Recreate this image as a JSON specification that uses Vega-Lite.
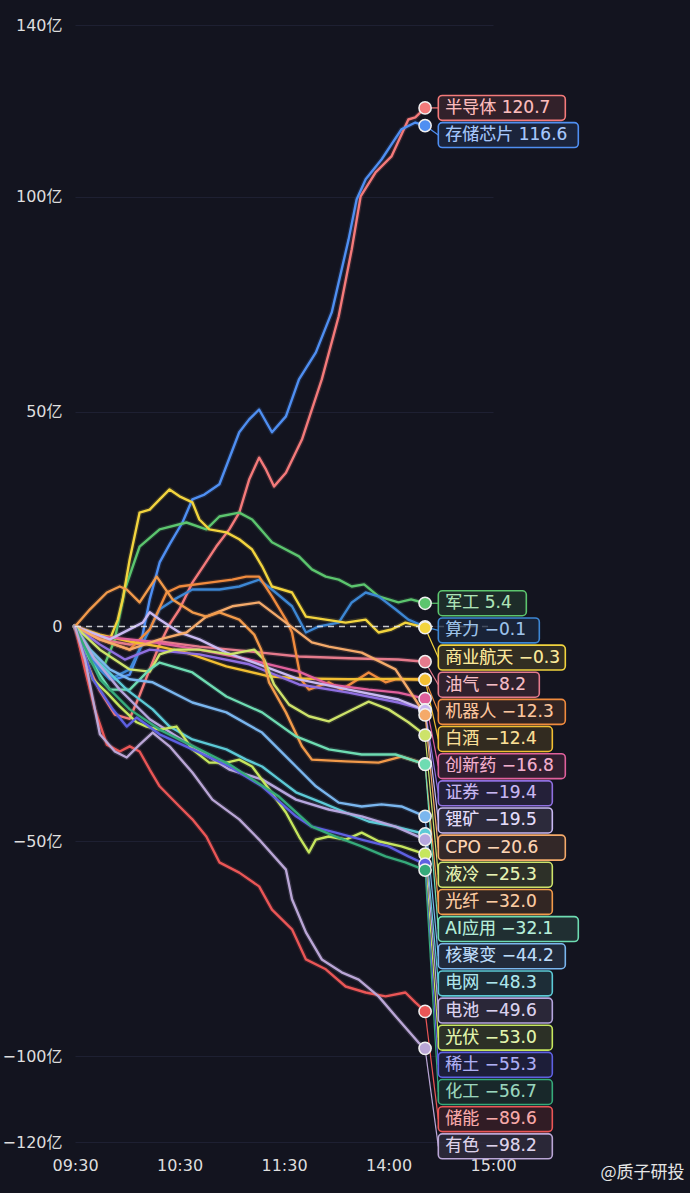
{
  "$schema": "https://vega.github.io/schema/vega-lite/v6.json",
  "width": 418,
  "height": 1117,
  "autosize": {"type": "none"},
  "padding": {"left": 75, "top": 25, "right": 197, "bottom": 51},
  "background": "#13141f",
  "config": {"view": {"stroke": null}},
  "data": {"values": [
    {"s":"半导体","t":0,"v":0},{"s":"半导体","t":5.7,"v":-7.7},{"s":"半导体","t":14.3,"v":-15},{"s":"半导体","t":22.9,"v":-20.5},{"s":"半导体","t":31.4,"v":-21.5},{"s":"半导体","t":37.1,"v":-16},{"s":"半导体","t":42.9,"v":-10},{"s":"半导体","t":48.6,"v":-4.2},{"s":"半导体","t":54.3,"v":0.5},{"s":"半导体","t":60,"v":4},{"s":"半导体","t":67.4,"v":10.2},{"s":"半导体","t":74.3,"v":14.4},{"s":"半导体","t":81.1,"v":18.6},{"s":"半导体","t":88.6,"v":22.6},{"s":"半导体","t":94.3,"v":26.5},{"s":"半导体","t":100,"v":34.2},{"s":"半导体","t":105.7,"v":39.3},{"s":"半导体","t":109.7,"v":36.5},{"s":"半导体","t":114.3,"v":32.6},{"s":"半导体","t":121.1,"v":35.8},{"s":"半导体","t":130.3,"v":43.5},{"s":"半导体","t":141.7,"v":57.5},{"s":"半导体","t":151.4,"v":72.2},{"s":"半导体","t":158.9,"v":87.8},{"s":"半导体","t":164,"v":100.1},{"s":"半导体","t":172.6,"v":105.7},{"s":"半导体","t":181.7,"v":109.4},{"s":"半导体","t":191.4,"v":118},{"s":"半导体","t":195.4,"v":118.5},{"s":"半导体","t":201,"v":120.7},
    {"s":"存储芯片","t":0,"v":0},{"s":"存储芯片","t":5.7,"v":-5.4},{"s":"存储芯片","t":14.3,"v":-9.5},{"s":"存储芯片","t":22.9,"v":-12.3},{"s":"存储芯片","t":31.4,"v":-11.2},{"s":"存储芯片","t":37.1,"v":-5.4},{"s":"存储芯片","t":42.9,"v":6.3},{"s":"存储芯片","t":48.6,"v":14.9},{"s":"存储芯片","t":54.3,"v":19.1},{"s":"存储芯片","t":61.7,"v":24.2},{"s":"存储芯片","t":67.4,"v":29.6},{"s":"存储芯片","t":74.3,"v":30.7},{"s":"存储芯片","t":82.9,"v":33.1},{"s":"存储芯片","t":94.3,"v":45.2},{"s":"存储芯片","t":100,"v":48.2},{"s":"存储芯片","t":105.7,"v":50.5},{"s":"存储芯片","t":113.1,"v":45.2},{"s":"存储芯片","t":121.1,"v":48.9},{"s":"存储芯片","t":128.6,"v":57.5},{"s":"存储芯片","t":138.3,"v":63.8},{"s":"存储芯片","t":147.4,"v":73.1},{"s":"存储芯片","t":157.1,"v":90.1},{"s":"存储芯片","t":161.7,"v":99.4},{"s":"存储芯片","t":166.9,"v":104.1},{"s":"存储芯片","t":176,"v":108.7},{"s":"存储芯片","t":187.4,"v":115.7},{"s":"存储芯片","t":195.4,"v":117.3},{"s":"存储芯片","t":201,"v":116.6},
    {"s":"军工","t":0,"v":0},{"s":"军工","t":8.6,"v":-5.4},{"s":"军工","t":17.1,"v":-8.8},{"s":"军工","t":22.9,"v":-3},{"s":"军工","t":28.6,"v":8.6},{"s":"军工","t":37.1,"v":18.6},{"s":"军工","t":48.6,"v":22.6},{"s":"军工","t":64,"v":24.2},{"s":"军工","t":75.4,"v":22.6},{"s":"军工","t":82.9,"v":25.6},{"s":"军工","t":94.3,"v":26.5},{"s":"军工","t":101.7,"v":24.9},{"s":"军工","t":113.1,"v":19.6},{"s":"军工","t":128.6,"v":16.3},{"s":"军工","t":136,"v":13.3},{"s":"军工","t":144,"v":11.6},{"s":"军工","t":151.4,"v":10.9},{"s":"军工","t":158.9,"v":9.3},{"s":"军工","t":166,"v":9.8},{"s":"军工","t":174.3,"v":7},{"s":"军工","t":185.7,"v":5.6},{"s":"军工","t":193,"v":6.3},{"s":"军工","t":201,"v":5.4},
    {"s":"算力","t":0,"v":0},{"s":"算力","t":8.6,"v":-7.7},{"s":"算力","t":20,"v":-12.3},{"s":"算力","t":31.4,"v":-10},{"s":"算力","t":40,"v":-3},{"s":"算力","t":48.6,"v":4},{"s":"算力","t":57.1,"v":6.3},{"s":"算力","t":67.4,"v":8.6},{"s":"算力","t":82.9,"v":8.6},{"s":"算力","t":94.3,"v":9.3},{"s":"算力","t":105.7,"v":10.9},{"s":"算力","t":113.1,"v":8.6},{"s":"算力","t":124.6,"v":4.7},{"s":"算力","t":132.6,"v":-1.4},{"s":"算力","t":140,"v":0},{"s":"算力","t":151.4,"v":0.9},{"s":"算力","t":158.9,"v":5.6},{"s":"算力","t":166.9,"v":7.9},{"s":"算力","t":174.3,"v":7},{"s":"算力","t":184,"v":4},{"s":"算力","t":191.4,"v":1.6},{"s":"算力","t":201,"v":-0.1},
    {"s":"商业航天","t":0,"v":0},{"s":"商业航天","t":11.4,"v":-1.9},{"s":"商业航天","t":20,"v":-3},{"s":"商业航天","t":24.6,"v":1.6},{"s":"商业航天","t":27.4,"v":6.3},{"s":"商业航天","t":31.4,"v":15.6},{"s":"商业航天","t":37.1,"v":26.5},{"s":"商业航天","t":42.9,"v":27.2},{"s":"商业航天","t":48.6,"v":29.6},{"s":"商业航天","t":54.3,"v":31.9},{"s":"商业航天","t":60,"v":30.3},{"s":"商业航天","t":67.4,"v":28.9},{"s":"商业航天","t":71.4,"v":24.9},{"s":"商业航天","t":77.1,"v":22.6},{"s":"商业航天","t":86.9,"v":21.9},{"s":"商业航天","t":94.3,"v":20.3},{"s":"商业航天","t":101.7,"v":17.9},{"s":"商业航天","t":107.4,"v":14},{"s":"商业航天","t":113.1,"v":9.3},{"s":"商业航天","t":124.6,"v":7.9},{"s":"商业航天","t":132.6,"v":2.3},{"s":"商业航天","t":144,"v":1.6},{"s":"商业航天","t":155.4,"v":0.9},{"s":"商业航天","t":166.9,"v":1.6},{"s":"商业航天","t":174.3,"v":-1.4},{"s":"商业航天","t":181.7,"v":-0.7},{"s":"商业航天","t":189.7,"v":0.9},{"s":"商业航天","t":201,"v":-0.3},
    {"s":"油气","t":0,"v":0},{"s":"油气","t":14.3,"v":-3},{"s":"油气","t":31.4,"v":-4.2},{"s":"油气","t":48.6,"v":-3.5},{"s":"油气","t":71.4,"v":-4.7},{"s":"油气","t":100,"v":-5.8},{"s":"油气","t":128.6,"v":-7},{"s":"油气","t":157.1,"v":-7.4},{"s":"油气","t":185.7,"v":-7.7},{"s":"油气","t":201,"v":-8.2},
    {"s":"机器人","t":0,"v":0},{"s":"机器人","t":14.3,"v":-3},{"s":"机器人","t":31.4,"v":-5.4},{"s":"机器人","t":42.9,"v":-0.7},{"s":"机器人","t":52.6,"v":7.9},{"s":"机器人","t":60,"v":9.3},{"s":"机器人","t":77.1,"v":10.2},{"s":"机器人","t":90.3,"v":10.9},{"s":"机器人","t":98.3,"v":11.6},{"s":"机器人","t":105.7,"v":11.6},{"s":"机器人","t":113.1,"v":7},{"s":"机器人","t":121.1,"v":1.6},{"s":"机器人","t":124.6,"v":-1.4},{"s":"机器人","t":129.7,"v":-12.3},{"s":"机器人","t":134.3,"v":-14.7},{"s":"机器人","t":145.7,"v":-13},{"s":"机器人","t":153.1,"v":-14.7},{"s":"机器人","t":168.6,"v":-10.7},{"s":"机器人","t":178.3,"v":-13},{"s":"机器人","t":184,"v":-12.3},{"s":"机器人","t":201,"v":-12.3},
    {"s":"白酒","t":0,"v":0},{"s":"白酒","t":14.3,"v":-1.9},{"s":"白酒","t":31.4,"v":-3.5},{"s":"白酒","t":48.6,"v":-4.7},{"s":"白酒","t":64,"v":-6.1},{"s":"白酒","t":86.9,"v":-9.3},{"s":"白酒","t":111.4,"v":-11.6},{"s":"白酒","t":128.6,"v":-12.1},{"s":"白酒","t":157.1,"v":-12.3},{"s":"白酒","t":185.7,"v":-12.2},{"s":"白酒","t":201,"v":-12.4},
    {"s":"创新药","t":0,"v":0},{"s":"创新药","t":14.3,"v":-2.3},{"s":"创新药","t":42.9,"v":-3.5},{"s":"创新药","t":71.4,"v":-5.4},{"s":"创新药","t":100,"v":-7.7},{"s":"创新药","t":128.6,"v":-10.5},{"s":"创新药","t":145.7,"v":-13.5},{"s":"创新药","t":168.6,"v":-14.7},{"s":"创新药","t":185.7,"v":-15.4},{"s":"创新药","t":201,"v":-16.8},
    {"s":"证券","t":0,"v":0},{"s":"证券","t":14.3,"v":-4.2},{"s":"证券","t":28.6,"v":-7.7},{"s":"证券","t":42.9,"v":-5.4},{"s":"证券","t":71.4,"v":-6.5},{"s":"证券","t":100,"v":-8.8},{"s":"证券","t":128.6,"v":-13.5},{"s":"证券","t":157.1,"v":-15.4},{"s":"证券","t":185.7,"v":-17.7},{"s":"证券","t":201,"v":-19.4},
    {"s":"锂矿","t":0,"v":0},{"s":"锂矿","t":20,"v":-3},{"s":"锂矿","t":38.9,"v":0.9},{"s":"锂矿","t":42.9,"v":3.3},{"s":"锂矿","t":48.6,"v":1.6},{"s":"锂矿","t":60,"v":-1.4},{"s":"锂矿","t":71.4,"v":-3},{"s":"锂矿","t":86.9,"v":-6.1},{"s":"锂矿","t":105.7,"v":-8.8},{"s":"锂矿","t":128.6,"v":-12.3},{"s":"锂矿","t":157.1,"v":-14.7},{"s":"锂矿","t":185.7,"v":-17},{"s":"锂矿","t":201,"v":-19.5},
    {"s":"CPO","t":0,"v":0},{"s":"CPO","t":14.3,"v":-3},{"s":"CPO","t":31.4,"v":-5.4},{"s":"CPO","t":48.6,"v":-3},{"s":"CPO","t":64,"v":-1.4},{"s":"CPO","t":75.4,"v":2.3},{"s":"CPO","t":90.3,"v":4.7},{"s":"CPO","t":105.7,"v":5.6},{"s":"CPO","t":121.1,"v":0.9},{"s":"CPO","t":136,"v":-3.7},{"s":"CPO","t":145.7,"v":-4.7},{"s":"CPO","t":164.6,"v":-6.1},{"s":"CPO","t":184,"v":-10},{"s":"CPO","t":195.4,"v":-17},{"s":"CPO","t":201,"v":-20.6},
    {"s":"液冷","t":0,"v":0},{"s":"液冷","t":14.3,"v":-5.4},{"s":"液冷","t":31.4,"v":-10},{"s":"液冷","t":42.9,"v":-10.5},{"s":"液冷","t":48.6,"v":-6.5},{"s":"液冷","t":57.1,"v":-5.4},{"s":"液冷","t":71.4,"v":-5.4},{"s":"液冷","t":88.6,"v":-6.5},{"s":"液冷","t":102.9,"v":-5.4},{"s":"液冷","t":108.6,"v":-7.7},{"s":"液冷","t":114.3,"v":-13.5},{"s":"液冷","t":122.9,"v":-18.2},{"s":"液冷","t":134.3,"v":-20.9},{"s":"液冷","t":145.7,"v":-22.1},{"s":"液冷","t":157.1,"v":-19.8},{"s":"液冷","t":168.6,"v":-17.5},{"s":"液冷","t":180,"v":-19.3},{"s":"液冷","t":191.4,"v":-22.3},{"s":"液冷","t":201,"v":-25.3},
    {"s":"光纤","t":0,"v":0},{"s":"光纤","t":8.6,"v":4},{"s":"光纤","t":18.3,"v":7.9},{"s":"光纤","t":25.7,"v":9.3},{"s":"光纤","t":29.7,"v":8.6},{"s":"光纤","t":37.1,"v":5.6},{"s":"光纤","t":46.9,"v":11.6},{"s":"光纤","t":56,"v":6.3},{"s":"光纤","t":67.4,"v":3.3},{"s":"光纤","t":75.4,"v":2.3},{"s":"光纤","t":82.9,"v":3.3},{"s":"光纤","t":94.3,"v":1.6},{"s":"光纤","t":102.9,"v":-1.9},{"s":"光纤","t":106.9,"v":-5.4},{"s":"光纤","t":111.4,"v":-13},{"s":"光纤","t":121.1,"v":-20},{"s":"光纤","t":130.3,"v":-27.9},{"s":"光纤","t":136,"v":-31},{"s":"光纤","t":155.4,"v":-31.4},{"s":"光纤","t":174.3,"v":-31.7},{"s":"光纤","t":187.4,"v":-30.3},{"s":"光纤","t":201,"v":-32},
    {"s":"AI应用","t":0,"v":0},{"s":"AI应用","t":8.6,"v":-7.7},{"s":"AI应用","t":20,"v":-14.7},{"s":"AI应用","t":31.4,"v":-14.7},{"s":"AI应用","t":42.9,"v":-10},{"s":"AI应用","t":48.6,"v":-8.4},{"s":"AI应用","t":67.4,"v":-10.7},{"s":"AI应用","t":86.9,"v":-16.3},{"s":"AI应用","t":107.4,"v":-20},{"s":"AI应用","t":126.9,"v":-25.6},{"s":"AI应用","t":145.7,"v":-28.6},{"s":"AI应用","t":164.6,"v":-29.8},{"s":"AI应用","t":184,"v":-29.8},{"s":"AI应用","t":201,"v":-32.1},
    {"s":"核聚变","t":0,"v":0},{"s":"核聚变","t":8.6,"v":-5.4},{"s":"核聚变","t":20,"v":-10},{"s":"核聚变","t":31.4,"v":-12.3},{"s":"核聚变","t":44.6,"v":-13},{"s":"核聚变","t":67.4,"v":-17.7},{"s":"核聚变","t":86.9,"v":-20},{"s":"核聚变","t":107.4,"v":-24.7},{"s":"核聚变","t":126.9,"v":-32.6},{"s":"核聚变","t":138.3,"v":-37.2},{"s":"核聚变","t":151.4,"v":-41},{"s":"核聚变","t":164.6,"v":-41.9},{"s":"核聚变","t":176,"v":-41.4},{"s":"核聚变","t":187.4,"v":-41.9},{"s":"核聚变","t":201,"v":-44.2},
    {"s":"电网","t":0,"v":0},{"s":"电网","t":10.3,"v":-7},{"s":"电网","t":29.7,"v":-14.7},{"s":"电网","t":44.6,"v":-19.3},{"s":"电网","t":54.3,"v":-23.3},{"s":"电网","t":67.4,"v":-26.3},{"s":"电网","t":86.9,"v":-28.6},{"s":"电网","t":98.3,"v":-31},{"s":"电网","t":107.4,"v":-32.6},{"s":"电网","t":117.1,"v":-35.6},{"s":"电网","t":126.9,"v":-38.6},{"s":"电网","t":141.7,"v":-41},{"s":"电网","t":155.4,"v":-43.3},{"s":"电网","t":168.6,"v":-45.4},{"s":"电网","t":184,"v":-46.6},{"s":"电网","t":201,"v":-48.3},
    {"s":"电池","t":0,"v":0},{"s":"电池","t":11.4,"v":-7.7},{"s":"电池","t":25.7,"v":-14.7},{"s":"电池","t":42.9,"v":-21.6},{"s":"电池","t":65.7,"v":-27.5},{"s":"电池","t":88.6,"v":-33.3},{"s":"电池","t":107.4,"v":-35.6},{"s":"电池","t":126.9,"v":-40.3},{"s":"电池","t":145.7,"v":-42.6},{"s":"电池","t":164.6,"v":-44.2},{"s":"电池","t":184,"v":-46.6},{"s":"电池","t":201,"v":-49.6},
    {"s":"光伏","t":0,"v":0},{"s":"光伏","t":10.3,"v":-12.3},{"s":"光伏","t":18.3,"v":-15.4},{"s":"光伏","t":25.7,"v":-18.6},{"s":"光伏","t":35.4,"v":-22.3},{"s":"光伏","t":41.1,"v":-23.3},{"s":"光伏","t":48.6,"v":-24},{"s":"光伏","t":58.3,"v":-23.3},{"s":"光伏","t":67.4,"v":-28.6},{"s":"光伏","t":77.1,"v":-31.7},{"s":"光伏","t":86.9,"v":-31.7},{"s":"光伏","t":94.3,"v":-31},{"s":"光伏","t":101.7,"v":-32.6},{"s":"光伏","t":111.4,"v":-37.9},{"s":"光伏","t":121.1,"v":-43.3},{"s":"光伏","t":128.6,"v":-48.9},{"s":"光伏","t":134.3,"v":-52.6},{"s":"光伏","t":138.3,"v":-49.6},{"s":"光伏","t":145.7,"v":-48.9},{"s":"光伏","t":155.4,"v":-49.6},{"s":"光伏","t":164.6,"v":-48},{"s":"光伏","t":174.3,"v":-50},{"s":"光伏","t":187.4,"v":-51.2},{"s":"光伏","t":201,"v":-53},
    {"s":"稀土","t":0,"v":0},{"s":"稀土","t":10.3,"v":-12.3},{"s":"稀土","t":21.7,"v":-19.3},{"s":"稀土","t":29.7,"v":-23.3},{"s":"稀土","t":35.4,"v":-21.2},{"s":"稀土","t":48.6,"v":-25.1},{"s":"稀土","t":67.4,"v":-28.6},{"s":"稀土","t":88.6,"v":-32.6},{"s":"稀土","t":107.4,"v":-37.2},{"s":"稀土","t":126.9,"v":-44.2},{"s":"稀土","t":136,"v":-46.6},{"s":"稀土","t":149.7,"v":-48},{"s":"稀土","t":164.6,"v":-49.6},{"s":"稀土","t":180,"v":-51.2},{"s":"稀土","t":191.4,"v":-53.5},{"s":"稀土","t":201,"v":-55.3},
    {"s":"化工","t":0,"v":0},{"s":"化工","t":14.3,"v":-12.3},{"s":"化工","t":31.4,"v":-19.3},{"s":"化工","t":48.6,"v":-24},{"s":"化工","t":71.4,"v":-28.6},{"s":"化工","t":88.6,"v":-32.1},{"s":"化工","t":117.1,"v":-39.6},{"s":"化工","t":136,"v":-46.6},{"s":"化工","t":149.7,"v":-48.9},{"s":"化工","t":164.6,"v":-51.2},{"s":"化工","t":178.3,"v":-53.5},{"s":"化工","t":189.7,"v":-54.9},{"s":"化工","t":201,"v":-56.7},
    {"s":"储能","t":0,"v":0},{"s":"储能","t":5.7,"v":-10},{"s":"储能","t":11.4,"v":-19.3},{"s":"储能","t":18.3,"v":-27.5},{"s":"储能","t":25.7,"v":-29.1},{"s":"储能","t":31.4,"v":-27.9},{"s":"储能","t":37.1,"v":-29.1},{"s":"储能","t":42.9,"v":-33.3},{"s":"储能","t":48.6,"v":-37.2},{"s":"储能","t":60,"v":-41.9},{"s":"储能","t":67.4,"v":-44.9},{"s":"储能","t":75.4,"v":-48.9},{"s":"储能","t":82.9,"v":-54.9},{"s":"储能","t":94.3,"v":-57.3},{"s":"储能","t":105.7,"v":-60.5},{"s":"储能","t":113.1,"v":-65.9},{"s":"储能","t":124.6,"v":-70.5},{"s":"储能","t":132.6,"v":-77.5},{"s":"储能","t":144,"v":-79.8},{"s":"储能","t":155.4,"v":-83.8},{"s":"储能","t":166.9,"v":-85.2},{"s":"储能","t":178.3,"v":-86.1},{"s":"储能","t":189.7,"v":-85.2},{"s":"储能","t":195.4,"v":-87.5},{"s":"储能","t":201,"v":-89.6},
    {"s":"有色","t":0,"v":0},{"s":"有色","t":5.7,"v":-7.7},{"s":"有色","t":10.3,"v":-17},{"s":"有色","t":14.3,"v":-25.1},{"s":"有色","t":22.9,"v":-29.1},{"s":"有色","t":29.7,"v":-30.5},{"s":"有色","t":37.1,"v":-27.5},{"s":"有色","t":44.6,"v":-24.7},{"s":"有色","t":54.3,"v":-27.9},{"s":"有色","t":67.4,"v":-34},{"s":"有色","t":78.9,"v":-40.3},{"s":"有色","t":94.3,"v":-44.9},{"s":"有色","t":105.7,"v":-49.6},{"s":"有色","t":121.1,"v":-56.6},{"s":"有色","t":124.6,"v":-63.5},{"s":"有色","t":132.6,"v":-71.2},{"s":"有色","t":141.7,"v":-77.5},{"s":"有色","t":153.1,"v":-80.5},{"s":"有色","t":162.9,"v":-82.2},{"s":"有色","t":174.3,"v":-86.1},{"s":"有色","t":185.7,"v":-91.5},{"s":"有色","t":197.1,"v":-96.8},{"s":"有色","t":201,"v":-98.2}
  ]},
  "layer": [
    {
      "mark": {"type": "line", "strokeWidth": 5, "opacity": 0.16, "strokeJoin": "round", "strokeCap": "round"},
      "encoding": {
        "x": {"field": "t", "type": "quantitative", "scale": {"domain": [0, 240], "nice": false, "zero": false},
          "axis": {"values": [0, 60, 120, 180, 240], "labelExpr": "datum.value == 0 ? '09:30' : datum.value == 60 ? '10:30' : datum.value == 120 ? '11:30' : datum.value == 180 ? '14:00' : '15:00'", "title": null, "domain": false, "ticks": false, "grid": false, "labelFlush": false, "labelPadding": 15, "labelFontSize": 16, "labelColor": "#dedede", "labelFont": "DejaVu Sans"}},
        "y": {"field": "v", "type": "quantitative", "scale": {"domain": [-120, 140], "nice": false, "zero": false},
          "axis": {"values": [-120, -100, -50, 0, 50, 100, 140], "labelExpr": "datum.value == 0 ? '0' : format(datum.value, 'd') + '亿'", "title": null, "domain": false, "ticks": false, "grid": true, "gridColor": "#1e2032", "gridWidth": 1, "labelFlush": false, "labelPadding": 13, "labelFontSize": 16, "labelColor": "#dedede", "labelFont": "DejaVu Sans, Noto Sans CJK SC"}},
        "color": {"field": "s", "type": "nominal", "legend": null, "scale": {
          "domain": ["半导体","存储芯片","军工","算力","商业航天","油气","机器人","白酒","创新药","证券","锂矿","CPO","液冷","光纤","AI应用","核聚变","电网","电池","光伏","稀土","化工","储能","有色"],
          "range": ["#f47a7a","#4f8ff2","#5cc56e","#3d87d4","#f2d43e","#e57a8c","#f08b3e","#f2bf32","#e0609c","#8f6fe0","#c9b9f2","#f5aa6a","#cde36a","#f29a4a","#6edcb2","#7ab6ee","#5ccad6","#b6a6de","#c6e65e","#5e60e2","#36aa7a","#ea5656","#baa6d6"]}}
      }
    },
    {
      "mark": {"type": "line", "strokeWidth": 2.4, "strokeJoin": "round", "strokeCap": "round"},
      "encoding": {
        "x": {"field": "t", "type": "quantitative"},
        "y": {"field": "v", "type": "quantitative"},
        "color": {"field": "s", "type": "nominal", "legend": null}
      }
    },
    {
      "data": {"values": [{"z": 0, "a": 0, "b": 240}]},
      "mark": {"type": "rule", "strokeDash": [6, 5], "color": "#e8e8e8", "strokeWidth": 1.4, "opacity": 0.85},
      "encoding": {"y": {"field": "z", "type": "quantitative"}, "x": {"field": "a", "type": "quantitative"}, "x2": {"field": "b"}}
    },
    {
      "data": {"values": [{"w": "@质子研投"}]},
      "transform": [{"calculate": "350", "as": "wx"}, {"calculate": "-127.1", "as": "wy"}],
      "mark": {"type": "text", "align": "right", "baseline": "middle", "font": "Noto Sans CJK SC", "fontSize": 17, "color": "#e6e6e6"},
      "encoding": {"x": {"field": "wx", "type": "quantitative"}, "y": {"field": "wy", "type": "quantitative"}, "text": {"field": "w", "type": "nominal"}}
    },
    {
      "transform": [
        {"joinaggregate": [{"op": "max", "field": "t", "as": "tmax"}], "groupby": ["s"]},
        {"filter": "datum.t === datum.tmax"},
        {"window": [{"op": "row_number", "as": "rk"}], "sort": [{"field": "v", "order": "descending"}]},
        {"calculate": "datum.v + datum.rk * 6.32", "as": "adj"},
        {"window": [{"op": "min", "field": "adj", "as": "adjmin"}], "sort": [{"field": "v", "order": "descending"}], "frame": [null, 0]},
        {"calculate": "datum.adjmin - datum.rk * 6.32", "as": "ly"},
        {"calculate": "datum.s + ' ' + format(datum.v, '.1f')", "as": "lab"},
        {"calculate": "datum.ly + 2.9", "as": "ly1"},
        {"calculate": "datum.ly - 2.9", "as": "ly2"},
        {"calculate": "208.6", "as": "lx"},
        {"calculate": "212.6", "as": "tx"},
        {"calculate": "208.6 + (10 + 13 * length(datum.lab)) / 1.7417", "as": "lx2"}
      ],
      "layer": [
        {
          "mark": {"type": "rule", "strokeWidth": 1.2},
          "encoding": {
            "x": {"field": "t", "type": "quantitative"},
            "x2": {"field": "lx"},
            "y": {"field": "v", "type": "quantitative"},
            "y2": {"field": "ly"},
            "color": {"field": "s", "type": "nominal", "legend": null}
          }
        },
        {
          "mark": {"type": "point", "filled": true, "size": 150, "stroke": "#f0f0f0", "strokeWidth": 1.5, "opacity": 1},
          "encoding": {
            "x": {"field": "t", "type": "quantitative"},
            "y": {"field": "v", "type": "quantitative"},
            "fill": {"field": "s", "type": "nominal", "legend": null, "scale": {
              "domain": ["半导体","存储芯片","军工","算力","商业航天","油气","机器人","白酒","创新药","证券","锂矿","CPO","液冷","光纤","AI应用","核聚变","电网","电池","光伏","稀土","化工","储能","有色"],
              "range": ["#f47a7a","#4f8ff2","#5cc56e","#3d87d4","#f2d43e","#e57a8c","#f08b3e","#f2bf32","#e0609c","#8f6fe0","#c9b9f2","#f5aa6a","#cde36a","#f29a4a","#6edcb2","#7ab6ee","#5ccad6","#b6a6de","#c6e65e","#5e60e2","#36aa7a","#ea5656","#baa6d6"]}}
          }
        },
        {
          "mark": {"type": "rect", "fill": "#13141f", "opacity": 0.72, "cornerRadius": 4},
          "encoding": {
            "x": {"field": "lx", "type": "quantitative"},
            "x2": {"field": "lx2"},
            "y": {"field": "ly1", "type": "quantitative"},
            "y2": {"field": "ly2"}
          }
        },
        {
          "mark": {"type": "rect", "fillOpacity": 0.14, "strokeWidth": 1.6, "cornerRadius": 4},
          "encoding": {
            "x": {"field": "lx", "type": "quantitative"},
            "x2": {"field": "lx2"},
            "y": {"field": "ly1", "type": "quantitative"},
            "y2": {"field": "ly2"},
            "fill": {"field": "s", "type": "nominal", "legend": null},
            "stroke": {"field": "s", "type": "nominal", "legend": null, "scale": {
              "domain": ["半导体","存储芯片","军工","算力","商业航天","油气","机器人","白酒","创新药","证券","锂矿","CPO","液冷","光纤","AI应用","核聚变","电网","电池","光伏","稀土","化工","储能","有色"],
              "range": ["#f47a7a","#4f8ff2","#5cc56e","#3d87d4","#f2d43e","#e57a8c","#f08b3e","#f2bf32","#e0609c","#8f6fe0","#c9b9f2","#f5aa6a","#cde36a","#f29a4a","#6edcb2","#7ab6ee","#5ccad6","#b6a6de","#c6e65e","#5e60e2","#36aa7a","#ea5656","#baa6d6"]}}
          }
        },
        {
          "mark": {"type": "text", "align": "left", "baseline": "middle", "font": "DejaVu Sans, Noto Sans CJK SC", "fontSize": 17},
          "encoding": {
            "x": {"field": "tx", "type": "quantitative"},
            "y": {"field": "ly", "type": "quantitative"},
            "text": {"field": "lab", "type": "nominal"},
            "color": {"field": "s", "type": "nominal", "legend": null}
          }
        },
        {
          "mark": {"type": "text", "align": "left", "baseline": "middle", "font": "DejaVu Sans, Noto Sans CJK SC", "fontSize": 17, "color": "#ffffff", "opacity": 0.5},
          "encoding": {
            "x": {"field": "tx", "type": "quantitative"},
            "y": {"field": "ly", "type": "quantitative"},
            "text": {"field": "lab", "type": "nominal"}
          }
        }
      ]
    }
  ]
}
